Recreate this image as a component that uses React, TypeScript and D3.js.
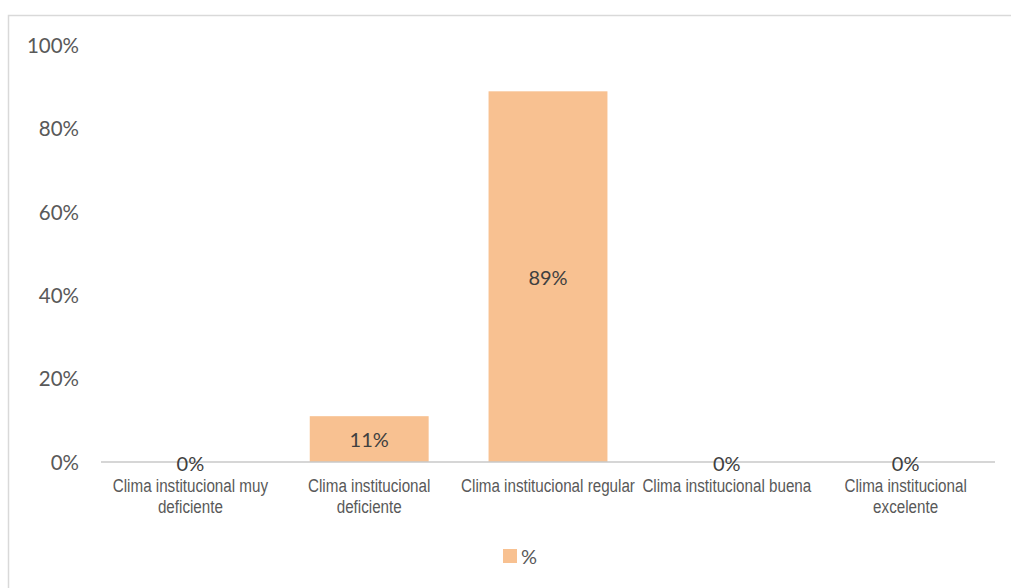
import React from "react";
import * as d3 from "d3";

const categories = [
  "Clima institucional muy deficiente",
  "Clima institucional deficiente",
  "Clima institucional regular",
  "Clima institucional buena",
  "Clima institucional excelente",
];
const categoryLines = [
  ["Clima institucional muy", "deficiente"],
  ["Clima institucional", "deficiente"],
  ["Clima institucional regular"],
  ["Clima institucional buena"],
  ["Clima institucional", "excelente"],
];
const values = [0, 11, 89, 0, 0];
const yTicks = [0, 20, 40, 60, 80, 100];
const seriesName = "%";

const W = 1011;
const H = 588;
const left = 101;
const right = 995;
const top = 45.5;
const bottom = 462;
const barColor = "#f8c191";
const textColor = "#595959";
const tickFont = "Lato, 'Open Sans', sans-serif";
const catFont = "'Liberation Sans', Arial, sans-serif";

export default function App() {
  const x = d3.scaleBand<string>().domain(categories).range([left, right]).paddingInner(0.335).paddingOuter(0.1675);
  const y = d3.scaleLinear().domain([0, 100]).range([bottom, top]);

  return (
    <svg width={W} height={H} style={{ position: "absolute", left: 0, top: 0, display: "block" }}>
      <rect x={0} y={0} width={W} height={H} fill="#fff" />
      <rect x={8.5} y={15.5} width={W + 20} height={H + 20} fill="none" stroke="#d9d9d9" strokeWidth={1.5} />
      {yTicks.map((t) => (
        <text key={t} x={79} y={y(t) + 7.5} textAnchor="end" fontFamily={tickFont} fontSize={20.5} fill={textColor}>
          {t}%
        </text>
      ))}
      {categories.map((c, i) => {
        const v = values[i];
        const bx = x(c)!;
        const bw = x.bandwidth();
        return v > 0 ? (
          <rect key={c} x={bx} y={y(v)} width={bw} height={bottom - y(v)} fill={barColor} />
        ) : null;
      })}
      <line x1={left} x2={right} y1={bottom} y2={bottom} stroke="#c8c8c8" strokeWidth={1.5} />
      {categories.map((c, i) => {
        const v = values[i];
        const cx = x(c)! + x.bandwidth() / 2;
        const ly = v > 0 ? (y(v) + bottom) / 2 + 8 : bottom + 9;
        return (
          <text key={"l" + c} x={cx} y={ly} textAnchor="middle" fontFamily={tickFont} fontSize={20} fill="#404040">
            {v}%
          </text>
        );
      })}
      {categories.map((c, i) => {
        const cx = x(c)! + x.bandwidth() / 2;
        return (
          <g key={"c" + c} transform={`translate(${cx},492) scale(0.8,1)`}>
            <text x={0} y={0} textAnchor="middle" fontFamily={catFont} fontSize={19} fill={textColor}>
              {categoryLines[i].map((ln, j) => (
                <tspan key={j} x={0} dy={j === 0 ? 0 : 21.5}>
                  {ln}
                </tspan>
              ))}
            </text>
          </g>
        );
      })}
      <rect x={503} y={549} width={14} height={14} fill={barColor} />
      <text x={521} y={564} fontFamily={tickFont} fontSize={20} fill={textColor}>
        {seriesName}
      </text>
    </svg>
  );
}
